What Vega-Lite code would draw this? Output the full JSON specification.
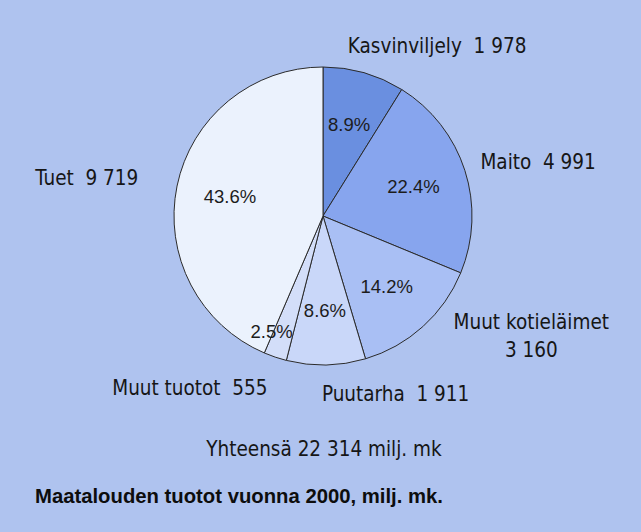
{
  "$schema": "https://vega.github.io/schema/vega-lite/v6.json",
  "width": 636,
  "height": 432,
  "autosize": {"type": "none"},
  "padding": {"left": 5, "top": 0, "right": 0, "bottom": 100},
  "background": "#afc3ef",
  "config": {"view": {"stroke": null}},
  "datasets": {
    "tuotot": [
      {"ord": 1, "cat": "Kasvinviljely", "value": 1978, "label": "Kasvinviljely\u00a0 1 978"},
      {"ord": 2, "cat": "Maito", "value": 4991, "label": "Maito\u00a0 4 991"},
      {"ord": 3, "cat": "Muut kotieläimet", "value": 3160, "label": "Muut kotieläimet\n3 160"},
      {"ord": 4, "cat": "Puutarha", "value": 1911, "label": "Puutarha\u00a0 1 911"},
      {"ord": 5, "cat": "Muut tuotot", "value": 555, "label": "Muut tuotot\u00a0 555"},
      {"ord": 6, "cat": "Tuet", "value": 9719, "label": "Tuet\u00a0 9 719"}
    ],
    "notes": [
      {"kind": "total", "text": "Yhteensä 22 314 milj. mk"}
    ],
    "heading": [
      {"text": "Maatalouden tuotot vuonna 2000, milj. mk."}
    ]
  },
  "layer": [
    {
      "data": {"name": "tuotot"},
      "transform": [
        {"joinaggregate": [{"op": "sum", "field": "value", "as": "total"}]},
        {"calculate": "datum.value / datum.total", "as": "share"}
      ],
      "encoding": {
        "theta": {"field": "value", "type": "quantitative", "stack": true},
        "order": {"field": "ord", "type": "quantitative"}
      },
      "layer": [
        {
          "mark": {"type": "arc", "outerRadius": 149, "stroke": "#2b2b2b", "strokeWidth": 1},
          "encoding": {
            "color": {
              "field": "cat",
              "type": "nominal",
              "scale": {
                "domain": ["Kasvinviljely", "Maito", "Muut kotieläimet", "Puutarha", "Muut tuotot", "Tuet"],
                "range": ["#6a8fe0", "#87a5ee", "#a9bff4", "#c9d7f9", "#d3def9", "#ebf2fd"]
              },
              "legend": null
            }
          }
        },
        {
          "mark": {
            "type": "text",
            "font": "Liberation Sans",
            "fontSize": 18.5,
            "fill": "#1c1c1c",
            "align": "center",
            "baseline": "middle",
            "radius": {"expr": "datum.cat === 'Muut tuotot' ? 126 : 95"},
            "dx": {"expr": "datum.cat === 'Muut tuotot' ? -11 : 0"},
            "dy": {"expr": "datum.cat === 'Muut tuotot' ? -3 : 0"}
          },
          "encoding": {
            "text": {"field": "share", "type": "quantitative", "format": ".1%"}
          }
        },
        {
          "mark": {
            "type": "text",
            "font": "DejaVu Sans Condensed, Liberation Sans, sans-serif",
            "fontSize": 20.5,
            "fill": "#161616",
            "align": "center",
            "baseline": "middle",
            "lineBreak": "\n",
            "lineHeight": 28.5,
            "radius": 175,
            "dx": {"expr": "datum.cat === 'Kasvinviljely' ? 66 : datum.cat === 'Maito' ? 48.5 : datum.cat === 'Muut kotieläimet' ? 91 : datum.cat === 'Puutarha' ? 69 : datum.cat === 'Muut tuotot' ? -77 : -64.8"},
            "dy": {"expr": "datum.cat === 'Kasvinviljely' ? -1 : datum.cat === 'Maito' ? 1 : datum.cat === 'Muut kotieläimet' ? -23 : datum.cat === 'Puutarha' ? 4.5 : datum.cat === 'Muut tuotot' ? 7.5 : -1.5"}
          },
          "encoding": {
            "text": {"field": "label", "type": "nominal"}
          }
        }
      ]
    },
    {
      "data": {"name": "notes"},
      "mark": {
        "type": "text",
        "font": "DejaVu Sans Condensed, Liberation Sans, sans-serif",
        "fontSize": 20.5,
        "fill": "#161616",
        "align": "center",
        "baseline": "middle",
        "dx": 1,
        "dy": 234
      },
      "encoding": {"text": {"field": "text", "type": "nominal"}}
    },
    {
      "data": {"name": "heading"},
      "mark": {
        "type": "text",
        "font": "Liberation Sans",
        "fontSize": 20.3,
        "fontWeight": "bold",
        "fill": "#0d0d0d",
        "align": "left",
        "baseline": "middle",
        "dx": -288,
        "dy": 281
      },
      "encoding": {"text": {"field": "text", "type": "nominal"}}
    }
  ]
}
